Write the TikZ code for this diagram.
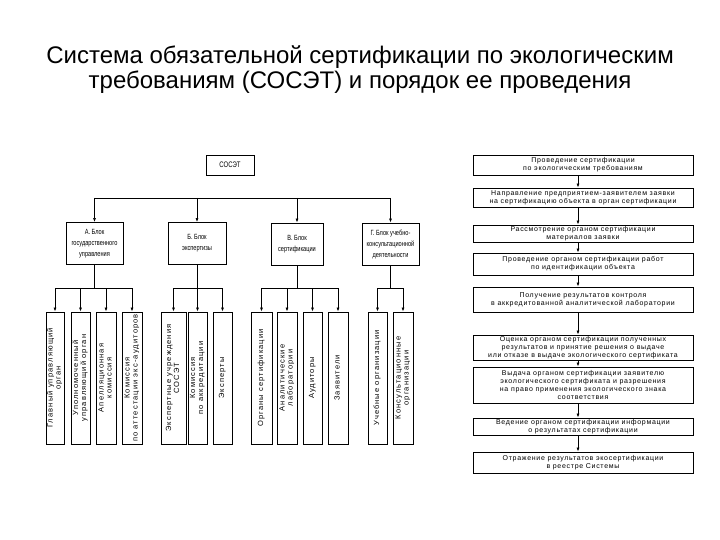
\documentclass[tikz,border=0pt]{standalone}
\usepackage{fontspec}
\setmainfont{Liberation Sans}
\newfontfamily\boxfont[LetterSpace=10]{Liberation Sans}
\newfontfamily\unitfont[LetterSpace=15]{Liberation Sans}
\newfontfamily\narrowfont[FakeStretch=0.75]{Liberation Sans}
\usetikzlibrary{positioning,arrows.meta}
\newcommand{\vlab}[1]{\rotatebox{90}{\begin{tabular}{@{}c@{}}#1\end{tabular}}}

\begin{document}
\begin{tikzpicture}[x=1pt, y=-1pt,
  hdr/.style={font=\fontsize{24}{25}\selectfont, align=center, inner sep=0pt},
  topbox/.style={draw, line width=0.9pt, minimum width=48pt, minimum height=20pt, inner sep=0pt, font=\narrowfont\fontsize{8}{9}\selectfont},
  blockbox/.style={draw, line width=0.9pt, minimum height=42pt, inner sep=0pt, align=center, font=\narrowfont\fontsize{7.5}{11}\selectfont},
  unitbox/.style={draw, line width=0.9pt, minimum height=132pt, inner sep=0pt, font=\unitfont\fontsize{7.5}{8}\selectfont},
  stepbox/.style={draw, line width=0.9pt, minimum width=220pt, inner sep=0pt, align=center, font=\boxfont\fontsize{7}{8}\selectfont},
  link/.style={line width=0.7pt},
  arr/.style={line width=0.7pt, -{Latex[length=4pt,width=3pt]}}
]
\useasboundingbox (0,0) rectangle (720,540);

\node[hdr] (title) at (360,70) {Система обязательной сертификации по экологическим\\требованиям (СОСЭТ) и порядок ее проведения};

\node[topbox] (sosat) at (230,165) {СОСЭТ};

\node[blockbox, minimum width=57pt] (blkA) at (94.5,243.5) {А. Блок\\государственного\\управления};
\node[blockbox, minimum width=58pt] (blkB) at (197,243.5) {Б. Блок\\экспертизы};
\node[blockbox, minimum width=52pt] (blkV) at (297,244) {В. Блок\\сертификации};
\node[blockbox, minimum width=57pt] (blkG) at (390.5,244) {Г. Блок учебно-\\консультационной\\деятельности};

\node[unitbox, minimum width=18pt] (a1) at (55,378) {\vlab{Главный управляющий\\орган}};
\node[unitbox, minimum width=19pt] (a2) at (80.5,378) {\vlab{Уполномоченный\\управляющий орган}};
\node[unitbox, minimum width=20pt] (a3) at (106,378) {\vlab{Апелляционная\\комиссия}};
\node[unitbox, minimum width=20pt] (a4) at (132,378) {\vlab{Комиссия\\по аттестации экс-аудиторов}};

\node[unitbox, minimum width=25pt] (b1) at (173.5,378) {\vlab{Экспертные учреждения\\СОСЭТ}};
\node[unitbox, minimum width=19pt] (b2) at (197.5,378) {\vlab{Комиссия\\по аккредитации}};
\node[unitbox, minimum width=19pt] (b3) at (222.5,378) {\vlab{Эксперты}};

\node[unitbox, minimum width=21pt] (v1) at (261.5,378) {\vlab{Органы сертификации}};
\node[unitbox, minimum width=20pt] (v2) at (287,378) {\vlab{Аналитические\\лаборатории}};
\node[unitbox, minimum width=19pt] (v3) at (312.5,378) {\vlab{Аудиторы}};
\node[unitbox, minimum width=20pt] (v4) at (338,378) {\vlab{Заявители}};

\node[unitbox, minimum width=19pt] (g1) at (377.5,378) {\vlab{Учебные организации}};
\node[unitbox, minimum width=20pt] (g2) at (403,378) {\vlab{Консультационные\\организации}};

\coordinate (tb) at (0,198);
\coordinate (sb) at (0,288);
\draw[link] (blkA.north |- tb) -- (blkG.north |- tb);
\foreach \b in {blkA,blkB,blkV,blkG}
  \draw[arr] (\b.north |- tb) -- (\b.north);

\draw[link] (blkA.south) -- (blkA.south |- sb);
\draw[link] (a1.north |- sb) -- (a4.north |- sb);
\foreach \u in {a1,a2,a3,a4}
  \draw[arr] (\u.north |- sb) -- (\u.north);

\draw[link] (blkB.south) -- (blkB.south |- sb);
\draw[link] (b1.north |- sb) -- (b3.north |- sb);
\foreach \u in {b1,b2,b3}
  \draw[arr] (\u.north |- sb) -- (\u.north);

\draw[link] (blkV.south) -- (blkV.south |- sb);
\draw[link] (v1.north |- sb) -- (v4.north |- sb);
\foreach \u in {v1,v2,v3,v4}
  \draw[arr] (\u.north |- sb) -- (\u.north);

\draw[link] (blkG.south) -- (blkG.south |- sb);
\draw[link] (g1.north |- sb) -- (g2.north |- sb);
\foreach \u in {g1,g2}
  \draw[arr] (\u.north |- sb) -- (\u.north);

\node[stepbox, minimum height=20pt] (r1) at (583,165) {Проведение сертификации\\по экологическим требованиям};
\node[stepbox, minimum height=19pt] (r2) at (583,197.5) {Направление предприятием-заявителем заявки\\на сертификацию объекта в орган сертификации};
\node[stepbox, minimum height=17pt] (r3) at (583,233.5) {Рассмотрение органом сертификации\\материалов заявки};
\node[stepbox, minimum height=22pt] (r4) at (583,264) {Проведение органом сертификации работ\\по идентификации объекта};
\node[stepbox, minimum height=25pt] (r5) at (583,299.5) {Получение результатов контроля\\в аккредитованной аналитической лаборатории};
\node[stepbox, minimum height=25pt] (r6) at (583,347.5) {Оценка органом сертификации полученных\\результатов и принятие решения о выдаче\\или отказе в выдаче экологического сертификата};
\node[stepbox, minimum height=36pt] (r7) at (583,385) {Выдача органом сертификации заявителю\\экологического сертификата и разрешения\\на право применения экологического знака\\соответствия};
\node[stepbox, minimum height=17pt] (r8) at (583,426.5) {Ведение органом сертификации информации\\о результатах сертификации};
\node[stepbox, minimum height=21pt] (r9) at (583,462.5) {Отражение результатов экосертификации\\в реестре Системы};

\foreach \p/\q in {r1/r2,r2/r3,r3/r4,r4/r5,r5/r6,r6/r7,r7/r8,r8/r9}
  \draw[arr] ([xshift=-5pt]\p.south) -- ([xshift=-5pt]\q.north);

\end{tikzpicture}
\end{document}
